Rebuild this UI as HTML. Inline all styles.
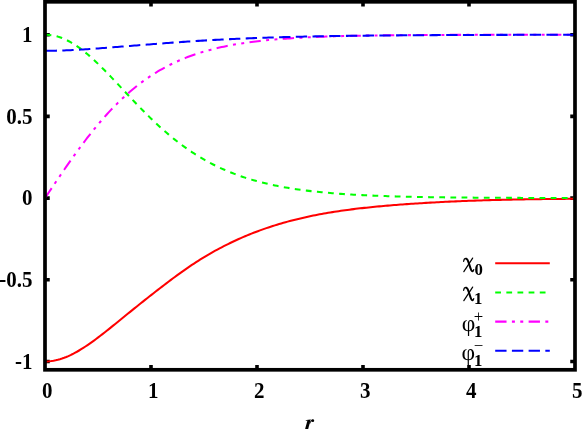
<!DOCTYPE html>
<html><head><meta charset="utf-8"><title>plot</title>
<style>
html,body{margin:0;padding:0;background:#fff;}
body{width:585px;height:431px;overflow:hidden;position:relative;font-family:"Liberation Serif",serif;}
</style></head><body>
<svg width="585" height="431" viewBox="0 0 585 431" style="position:absolute;left:0;top:0;will-change:transform">
<rect x="0" y="0" width="585" height="431" fill="#fff"/>
<path d="M151.00,369.8 V365.05 M151.00,1.8 V6.55 M257.00,369.8 V365.05 M257.00,1.8 V6.55 M363.00,369.8 V365.05 M363.00,1.8 V6.55 M469.00,369.8 V365.05 M469.00,1.8 V6.55 M45.0,361.50 H49.75 M575.0,361.50 H570.25 M45.0,279.80 H49.75 M575.0,279.80 H570.25 M45.0,198.10 H49.75 M575.0,198.10 H570.25 M45.0,116.40 H49.75 M575.0,116.40 H570.25 M45.0,34.70 H49.75 M575.0,34.70 H570.25" stroke="#000" stroke-width="3.6" fill="none"/>
<g fill="none" stroke-width="2.05" stroke-linecap="butt" stroke-linejoin="round">
<path d="M45.00,361.50 L47.13,361.45 L49.26,361.31 L51.39,361.08 L53.51,360.75 L55.64,360.34 L57.77,359.83 L59.90,359.24 L62.03,358.57 L64.16,357.81 L66.29,356.98 L68.41,356.07 L70.54,355.09 L72.67,354.04 L74.80,352.92 L76.93,351.75 L79.06,350.51 L81.18,349.23 L83.31,347.89 L85.44,346.50 L87.57,345.08 L89.70,343.61 L91.83,342.10 L93.96,340.56 L96.08,338.99 L98.21,337.40 L100.34,335.78 L102.47,334.13 L104.60,332.47 L106.73,330.79 L108.86,329.09 L110.98,327.39 L113.11,325.67 L115.24,323.95 L117.37,322.22 L119.50,320.49 L121.63,318.75 L123.76,317.02 L125.88,315.29 L128.01,313.56 L130.14,311.83 L132.27,310.11 L134.40,308.39 L136.53,306.68 L138.65,304.98 L140.78,303.28 L142.91,301.59 L145.04,299.90 L147.17,298.22 L149.30,296.55 L151.43,294.88 L153.55,293.22 L155.68,291.56 L157.81,289.91 L159.94,288.26 L162.07,286.62 L164.20,284.99 L166.33,283.36 L168.45,281.75 L170.58,280.14 L172.71,278.55 L174.84,276.97 L176.97,275.40 L179.10,273.85 L181.22,272.32 L183.35,270.81 L185.48,269.31 L187.61,267.84 L189.74,266.39 L191.87,264.96 L194.00,263.55 L196.12,262.17 L198.25,260.80 L200.38,259.46 L202.51,258.15 L204.64,256.85 L206.77,255.58 L208.90,254.34 L211.02,253.11 L213.15,251.90 L215.28,250.72 L217.41,249.56 L219.54,248.42 L221.67,247.30 L223.80,246.20 L225.92,245.12 L228.05,244.06 L230.18,243.02 L232.31,242.00 L234.44,240.99 L236.57,240.01 L238.69,239.05 L240.82,238.10 L242.95,237.18 L245.08,236.27 L247.21,235.38 L249.34,234.51 L251.47,233.65 L253.59,232.81 L255.72,231.99 L257.85,231.19 L259.98,230.41 L262.11,229.64 L264.24,228.88 L266.37,228.15 L268.49,227.43 L270.62,226.72 L272.75,226.03 L274.88,225.36 L277.01,224.70 L279.14,224.06 L281.27,223.43 L283.39,222.81 L285.52,222.21 L287.65,221.62 L289.78,221.05 L291.91,220.49 L294.04,219.94 L296.16,219.41 L298.29,218.89 L300.42,218.38 L302.55,217.89 L304.68,217.40 L306.81,216.93 L308.94,216.47 L311.06,216.03 L313.19,215.59 L315.32,215.16 L317.45,214.75 L319.58,214.34 L321.71,213.95 L323.84,213.56 L325.96,213.19 L328.09,212.82 L330.22,212.47 L332.35,212.12 L334.48,211.79 L336.61,211.46 L338.73,211.14 L340.86,210.82 L342.99,210.52 L345.12,210.22 L347.25,209.94 L349.38,209.66 L351.51,209.38 L353.63,209.11 L355.76,208.85 L357.89,208.60 L360.02,208.35 L362.15,208.11 L364.28,207.88 L366.41,207.65 L368.53,207.42 L370.66,207.20 L372.79,206.99 L374.92,206.78 L377.05,206.58 L379.18,206.38 L381.31,206.18 L383.43,205.99 L385.56,205.80 L387.69,205.62 L389.82,205.44 L391.95,205.27 L394.08,205.09 L396.20,204.93 L398.33,204.76 L400.46,204.60 L402.59,204.44 L404.72,204.29 L406.85,204.13 L408.98,203.99 L411.10,203.84 L413.23,203.69 L415.36,203.55 L417.49,203.42 L419.62,203.28 L421.75,203.15 L423.88,203.02 L426.00,202.89 L428.13,202.76 L430.26,202.64 L432.39,202.52 L434.52,202.40 L436.65,202.29 L438.78,202.17 L440.90,202.06 L443.03,201.96 L445.16,201.85 L447.29,201.75 L449.42,201.64 L451.55,201.55 L453.67,201.45 L455.80,201.36 L457.93,201.26 L460.06,201.17 L462.19,201.09 L464.32,201.00 L466.45,200.92 L468.57,200.84 L470.70,200.76 L472.83,200.68 L474.96,200.61 L477.09,200.53 L479.22,200.46 L481.35,200.40 L483.47,200.33 L485.60,200.26 L487.73,200.20 L489.86,200.14 L491.99,200.08 L494.12,200.02 L496.24,199.97 L498.37,199.91 L500.50,199.86 L502.63,199.81 L504.76,199.76 L506.89,199.71 L509.02,199.67 L511.14,199.62 L513.27,199.58 L515.40,199.54 L517.53,199.50 L519.66,199.46 L521.79,199.42 L523.92,199.38 L526.04,199.35 L528.17,199.31 L530.30,199.28 L532.43,199.24 L534.56,199.21 L536.69,199.18 L538.82,199.15 L540.94,199.12 L543.07,199.10 L545.20,199.07 L547.33,199.04 L549.46,199.02 L551.59,198.99 L553.71,198.97 L555.84,198.94 L557.97,198.92 L560.10,198.90 L562.23,198.88 L564.36,198.86 L566.49,198.83 L568.61,198.81 L570.74,198.80 L572.87,198.78 L575.00,198.76" stroke="#ff0000"/>
<path d="M45.00,34.70 L47.13,34.75 L49.26,34.91 L51.39,35.18 L53.51,35.55 L55.64,36.03 L57.77,36.61 L59.90,37.29 L62.03,38.07 L64.16,38.95 L66.29,39.92 L68.41,40.99 L70.54,42.15 L72.67,43.40 L74.80,44.73 L76.93,46.14 L79.06,47.64 L81.18,49.20 L83.31,50.84 L85.44,52.55 L87.57,54.32 L89.70,56.15 L91.83,58.03 L93.96,59.97 L96.08,61.96 L98.21,63.99 L100.34,66.06 L102.47,68.17 L104.60,70.31 L106.73,72.48 L108.86,74.68 L110.98,76.89 L113.11,79.13 L115.24,81.38 L117.37,83.64 L119.50,85.90 L121.63,88.18 L123.76,90.45 L125.88,92.72 L128.01,94.99 L130.14,97.25 L132.27,99.50 L134.40,101.74 L136.53,103.96 L138.65,106.17 L140.78,108.35 L142.91,110.52 L145.04,112.66 L147.17,114.79 L149.30,116.88 L151.43,118.95 L153.55,120.99 L155.68,123.00 L157.81,124.98 L159.94,126.93 L162.07,128.84 L164.20,130.73 L166.33,132.58 L168.45,134.39 L170.58,136.18 L172.71,137.92 L174.84,139.63 L176.97,141.31 L179.10,142.95 L181.22,144.55 L183.35,146.12 L185.48,147.66 L187.61,149.15 L189.74,150.62 L191.87,152.05 L194.00,153.44 L196.12,154.80 L198.25,156.12 L200.38,157.41 L202.51,158.67 L204.64,159.90 L206.77,161.09 L208.90,162.25 L211.02,163.38 L213.15,164.48 L215.28,165.55 L217.41,166.58 L219.54,167.59 L221.67,168.57 L223.80,169.52 L225.92,170.45 L228.05,171.35 L230.18,172.22 L232.31,173.06 L234.44,173.88 L236.57,174.68 L238.69,175.45 L240.82,176.20 L242.95,176.92 L245.08,177.63 L247.21,178.31 L249.34,178.97 L251.47,179.61 L253.59,180.23 L255.72,180.83 L257.85,181.41 L259.98,181.97 L262.11,182.52 L264.24,183.04 L266.37,183.55 L268.49,184.05 L270.62,184.52 L272.75,184.99 L274.88,185.43 L277.01,185.87 L279.14,186.28 L281.27,186.69 L283.39,187.08 L285.52,187.46 L287.65,187.82 L289.78,188.18 L291.91,188.52 L294.04,188.85 L296.16,189.17 L298.29,189.48 L300.42,189.78 L302.55,190.06 L304.68,190.34 L306.81,190.61 L308.94,190.87 L311.06,191.12 L313.19,191.36 L315.32,191.60 L317.45,191.83 L319.58,192.04 L321.71,192.26 L323.84,192.46 L325.96,192.66 L328.09,192.85 L330.22,193.03 L332.35,193.21 L334.48,193.38 L336.61,193.54 L338.73,193.70 L340.86,193.86 L342.99,194.01 L345.12,194.15 L347.25,194.29 L349.38,194.42 L351.51,194.55 L353.63,194.68 L355.76,194.80 L357.89,194.91 L360.02,195.02 L362.15,195.13 L364.28,195.24 L366.41,195.34 L368.53,195.43 L370.66,195.53 L372.79,195.62 L374.92,195.71 L377.05,195.79 L379.18,195.87 L381.31,195.95 L383.43,196.03 L385.56,196.10 L387.69,196.17 L389.82,196.24 L391.95,196.30 L394.08,196.37 L396.20,196.43 L398.33,196.49 L400.46,196.54 L402.59,196.60 L404.72,196.65 L406.85,196.70 L408.98,196.75 L411.10,196.80 L413.23,196.85 L415.36,196.89 L417.49,196.93 L419.62,196.98 L421.75,197.02 L423.88,197.05 L426.00,197.09 L428.13,197.13 L430.26,197.16 L432.39,197.19 L434.52,197.23 L436.65,197.26 L438.78,197.29 L440.90,197.32 L443.03,197.34 L445.16,197.37 L447.29,197.40 L449.42,197.42 L451.55,197.45 L453.67,197.47 L455.80,197.49 L457.93,197.51 L460.06,197.53 L462.19,197.55 L464.32,197.57 L466.45,197.59 L468.57,197.61 L470.70,197.63 L472.83,197.64 L474.96,197.66 L477.09,197.68 L479.22,197.69 L481.35,197.70 L483.47,197.72 L485.60,197.73 L487.73,197.75 L489.86,197.76 L491.99,197.77 L494.12,197.78 L496.24,197.79 L498.37,197.80 L500.50,197.81 L502.63,197.82 L504.76,197.83 L506.89,197.84 L509.02,197.85 L511.14,197.86 L513.27,197.87 L515.40,197.88 L517.53,197.89 L519.66,197.89 L521.79,197.90 L523.92,197.91 L526.04,197.91 L528.17,197.92 L530.30,197.93 L532.43,197.93 L534.56,197.94 L536.69,197.95 L538.82,197.95 L540.94,197.96 L543.07,197.96 L545.20,197.97 L547.33,197.97 L549.46,197.98 L551.59,197.98 L553.71,197.98 L555.84,197.99 L557.97,197.99 L560.10,198.00 L562.23,198.00 L564.36,198.00 L566.49,198.01 L568.61,198.01 L570.74,198.01 L572.87,198.02 L575.00,198.02" stroke="#00ff00" stroke-dasharray="5.770 5.370" stroke-dashoffset="-0.6"/>
<path d="M45.00,198.10 L47.13,194.92 L49.26,191.74 L51.39,188.56 L53.51,185.39 L55.64,182.24 L57.77,179.09 L59.90,175.96 L62.03,172.84 L64.16,169.75 L66.29,166.67 L68.41,163.62 L70.54,160.59 L72.67,157.59 L74.80,154.61 L76.93,151.67 L79.06,148.76 L81.18,145.89 L83.31,143.05 L85.44,140.25 L87.57,137.48 L89.70,134.76 L91.83,132.07 L93.96,129.43 L96.08,126.83 L98.21,124.28 L100.34,121.77 L102.47,119.30 L104.60,116.88 L106.73,114.51 L108.86,112.18 L110.98,109.90 L113.11,107.67 L115.24,105.49 L117.37,103.35 L119.50,101.26 L121.63,99.22 L123.76,97.23 L125.88,95.28 L128.01,93.38 L130.14,91.53 L132.27,89.72 L134.40,87.97 L136.53,86.25 L138.65,84.58 L140.78,82.96 L142.91,81.38 L145.04,79.84 L147.17,78.35 L149.30,76.89 L151.43,75.48 L153.55,74.11 L155.68,72.78 L157.81,71.49 L159.94,70.24 L162.07,69.02 L164.20,67.84 L166.33,66.70 L168.45,65.60 L170.58,64.52 L172.71,63.48 L174.84,62.48 L176.97,61.50 L179.10,60.56 L181.22,59.65 L183.35,58.76 L185.48,57.91 L187.61,57.08 L189.74,56.29 L191.87,55.51 L194.00,54.77 L196.12,54.05 L198.25,53.35 L200.38,52.68 L202.51,52.02 L204.64,51.40 L206.77,50.79 L208.90,50.20 L211.02,49.64 L213.15,49.09 L215.28,48.57 L217.41,48.06 L219.54,47.57 L221.67,47.10 L223.80,46.64 L225.92,46.20 L228.05,45.77 L230.18,45.37 L232.31,44.97 L234.44,44.59 L236.57,44.22 L238.69,43.87 L240.82,43.53 L242.95,43.20 L245.08,42.88 L247.21,42.58 L249.34,42.28 L251.47,42.00 L253.59,41.73 L255.72,41.47 L257.85,41.21 L259.98,40.97 L262.11,40.73 L264.24,40.51 L266.37,40.29 L268.49,40.08 L270.62,39.88 L272.75,39.68 L274.88,39.49 L277.01,39.31 L279.14,39.14 L281.27,38.97 L283.39,38.81 L285.52,38.66 L287.65,38.51 L289.78,38.36 L291.91,38.22 L294.04,38.09 L296.16,37.96 L298.29,37.84 L300.42,37.72 L302.55,37.61 L304.68,37.50 L306.81,37.39 L308.94,37.29 L311.06,37.19 L313.19,37.10 L315.32,37.00 L317.45,36.92 L319.58,36.83 L321.71,36.75 L323.84,36.67 L325.96,36.60 L328.09,36.53 L330.22,36.46 L332.35,36.39 L334.48,36.33 L336.61,36.26 L338.73,36.21 L340.86,36.15 L342.99,36.09 L345.12,36.04 L347.25,35.99 L349.38,35.94 L351.51,35.89 L353.63,35.85 L355.76,35.80 L357.89,35.76 L360.02,35.72 L362.15,35.68 L364.28,35.64 L366.41,35.61 L368.53,35.57 L370.66,35.54 L372.79,35.51 L374.92,35.48 L377.05,35.45 L379.18,35.42 L381.31,35.39 L383.43,35.37 L385.56,35.34 L387.69,35.32 L389.82,35.29 L391.95,35.27 L394.08,35.25 L396.20,35.23 L398.33,35.21 L400.46,35.19 L402.59,35.17 L404.72,35.15 L406.85,35.13 L408.98,35.12 L411.10,35.10 L413.23,35.09 L415.36,35.07 L417.49,35.06 L419.62,35.04 L421.75,35.03 L423.88,35.02 L426.00,35.01 L428.13,34.99 L430.26,34.98 L432.39,34.97 L434.52,34.96 L436.65,34.95 L438.78,34.94 L440.90,34.93 L443.03,34.92 L445.16,34.92 L447.29,34.91 L449.42,34.90 L451.55,34.89 L453.67,34.88 L455.80,34.88 L457.93,34.87 L460.06,34.86 L462.19,34.86 L464.32,34.85 L466.45,34.85 L468.57,34.84 L470.70,34.84 L472.83,34.83 L474.96,34.82 L477.09,34.82 L479.22,34.82 L481.35,34.81 L483.47,34.81 L485.60,34.80 L487.73,34.80 L489.86,34.80 L491.99,34.79 L494.12,34.79 L496.24,34.78 L498.37,34.78 L500.50,34.78 L502.63,34.78 L504.76,34.77 L506.89,34.77 L509.02,34.77 L511.14,34.76 L513.27,34.76 L515.40,34.76 L517.53,34.76 L519.66,34.76 L521.79,34.75 L523.92,34.75 L526.04,34.75 L528.17,34.75 L530.30,34.75 L532.43,34.74 L534.56,34.74 L536.69,34.74 L538.82,34.74 L540.94,34.74 L543.07,34.74 L545.20,34.73 L547.33,34.73 L549.46,34.73 L551.59,34.73 L553.71,34.73 L555.84,34.73 L557.97,34.73 L560.10,34.73 L562.23,34.73 L564.36,34.72 L566.49,34.72 L568.61,34.72 L570.74,34.72 L572.87,34.72 L575.00,34.72" stroke="#ff00ff" stroke-dasharray="11.340 5.370 2.985 5.370 2.985 5.370" stroke-dashoffset="-0.6"/>
<path d="M45.00,50.79 L47.13,50.79 L49.26,50.78 L51.39,50.75 L53.51,50.72 L55.64,50.68 L57.77,50.63 L59.90,50.57 L62.03,50.51 L64.16,50.43 L66.29,50.35 L68.41,50.26 L70.54,50.16 L72.67,50.06 L74.80,49.95 L76.93,49.83 L79.06,49.71 L81.18,49.59 L83.31,49.45 L85.44,49.32 L87.57,49.18 L89.70,49.03 L91.83,48.88 L93.96,48.73 L96.08,48.58 L98.21,48.42 L100.34,48.26 L102.47,48.10 L104.60,47.94 L106.73,47.77 L108.86,47.60 L110.98,47.43 L113.11,47.27 L115.24,47.10 L117.37,46.93 L119.50,46.76 L121.63,46.58 L123.76,46.41 L125.88,46.24 L128.01,46.07 L130.14,45.90 L132.27,45.73 L134.40,45.56 L136.53,45.40 L138.65,45.23 L140.78,45.06 L142.91,44.89 L145.04,44.73 L147.17,44.56 L149.30,44.40 L151.43,44.23 L153.55,44.07 L155.68,43.91 L157.81,43.74 L159.94,43.58 L162.07,43.42 L164.20,43.26 L166.33,43.10 L168.45,42.94 L170.58,42.78 L172.71,42.62 L174.84,42.47 L176.97,42.31 L179.10,42.16 L181.22,42.01 L183.35,41.86 L185.48,41.71 L187.61,41.57 L189.74,41.43 L191.87,41.29 L194.00,41.15 L196.12,41.01 L198.25,40.88 L200.38,40.74 L202.51,40.61 L204.64,40.49 L206.77,40.36 L208.90,40.24 L211.02,40.12 L213.15,40.00 L215.28,39.88 L217.41,39.77 L219.54,39.66 L221.67,39.55 L223.80,39.44 L225.92,39.33 L228.05,39.23 L230.18,39.12 L232.31,39.02 L234.44,38.93 L236.57,38.83 L238.69,38.73 L240.82,38.64 L242.95,38.55 L245.08,38.46 L247.21,38.37 L249.34,38.29 L251.47,38.20 L253.59,38.12 L255.72,38.04 L257.85,37.96 L259.98,37.88 L262.11,37.81 L264.24,37.73 L266.37,37.66 L268.49,37.59 L270.62,37.52 L272.75,37.45 L274.88,37.38 L277.01,37.32 L279.14,37.26 L281.27,37.19 L283.39,37.13 L285.52,37.07 L287.65,37.02 L289.78,36.96 L291.91,36.91 L294.04,36.85 L296.16,36.80 L298.29,36.75 L300.42,36.70 L302.55,36.65 L304.68,36.60 L306.81,36.56 L308.94,36.51 L311.06,36.47 L313.19,36.42 L315.32,36.38 L317.45,36.34 L319.58,36.30 L321.71,36.26 L323.84,36.22 L325.96,36.19 L328.09,36.15 L330.22,36.12 L332.35,36.08 L334.48,36.05 L336.61,36.02 L338.73,35.98 L340.86,35.95 L342.99,35.92 L345.12,35.89 L347.25,35.87 L349.38,35.84 L351.51,35.81 L353.63,35.78 L355.76,35.76 L357.89,35.73 L360.02,35.71 L362.15,35.69 L364.28,35.66 L366.41,35.64 L368.53,35.62 L370.66,35.60 L372.79,35.58 L374.92,35.56 L377.05,35.53 L379.18,35.52 L381.31,35.50 L383.43,35.48 L385.56,35.46 L387.69,35.44 L389.82,35.42 L391.95,35.41 L394.08,35.39 L396.20,35.37 L398.33,35.36 L400.46,35.34 L402.59,35.32 L404.72,35.31 L406.85,35.29 L408.98,35.28 L411.10,35.27 L413.23,35.25 L415.36,35.24 L417.49,35.22 L419.62,35.21 L421.75,35.20 L423.88,35.18 L426.00,35.17 L428.13,35.16 L430.26,35.15 L432.39,35.14 L434.52,35.12 L436.65,35.11 L438.78,35.10 L440.90,35.09 L443.03,35.08 L445.16,35.07 L447.29,35.06 L449.42,35.05 L451.55,35.04 L453.67,35.03 L455.80,35.02 L457.93,35.01 L460.06,35.00 L462.19,34.99 L464.32,34.99 L466.45,34.98 L468.57,34.97 L470.70,34.96 L472.83,34.95 L474.96,34.95 L477.09,34.94 L479.22,34.93 L481.35,34.93 L483.47,34.92 L485.60,34.91 L487.73,34.91 L489.86,34.90 L491.99,34.90 L494.12,34.89 L496.24,34.88 L498.37,34.88 L500.50,34.87 L502.63,34.87 L504.76,34.86 L506.89,34.86 L509.02,34.85 L511.14,34.85 L513.27,34.85 L515.40,34.84 L517.53,34.84 L519.66,34.83 L521.79,34.83 L523.92,34.83 L526.04,34.82 L528.17,34.82 L530.30,34.82 L532.43,34.81 L534.56,34.81 L536.69,34.81 L538.82,34.80 L540.94,34.80 L543.07,34.80 L545.20,34.80 L547.33,34.79 L549.46,34.79 L551.59,34.79 L553.71,34.79 L555.84,34.78 L557.97,34.78 L560.10,34.78 L562.23,34.78 L564.36,34.77 L566.49,34.77 L568.61,34.77 L570.74,34.77 L572.87,34.77 L575.00,34.76" stroke="#0000ff" stroke-dasharray="11.340 5.370" stroke-dashoffset="-0.6"/>
<path d="M495.2,263.3 L549.8,263.3" stroke="#ff0000"/>
<path d="M495.2,292.45 L549.8,292.45" stroke="#00ff00" stroke-dasharray="5.770 5.370"/>
<path d="M495.2,321.6 L549.8,321.6" stroke="#ff00ff" stroke-dasharray="11.340 5.370 2.985 5.370 2.985 5.370"/>
<path d="M495.2,350.75 L549.8,350.75" stroke="#0000ff" stroke-dasharray="11.340 5.370"/>
</g>
<rect x="45.0" y="1.8" width="530.0" height="368.0" fill="none" stroke="#000" stroke-width="3.7"/>
<g font-family="Liberation Serif, serif" font-weight="bold" font-size="21px" fill="#000">
<text transform="translate(32.60,41.90) scale(1,1.08)" text-anchor="end">1</text>
<text transform="translate(32.60,123.60) scale(1,1.08)" text-anchor="end">0.5</text>
<text transform="translate(32.60,205.30) scale(1,1.08)" text-anchor="end">0</text>
<text transform="translate(32.60,287.00) scale(1,1.08)" text-anchor="end">-0.5</text>
<text transform="translate(32.60,368.70) scale(1,1.08)" text-anchor="end">-1</text>
<text transform="translate(47.30,398.20) scale(1,1.08)" text-anchor="middle">0</text>
<text transform="translate(153.30,398.20) scale(1,1.08)" text-anchor="middle">1</text>
<text transform="translate(259.30,398.20) scale(1,1.08)" text-anchor="middle">2</text>
<text transform="translate(365.30,398.20) scale(1,1.08)" text-anchor="middle">3</text>
<text transform="translate(471.30,398.20) scale(1,1.08)" text-anchor="middle">4</text>
<text transform="translate(577.30,398.20) scale(1,1.08)" text-anchor="middle">5</text>
<g fill="#000" stroke="none"><path d="M307.5,420.2 L310.7,419.3 L308.2,428.9 L305.1,428.9 Z"/><path d="M305.8,421.1 L305.7,420.5 L308.6,419.6 L308.4,420.6 Z"/><path d="M309.4,423.6 C310.0,421.6 310.9,420.3 312.2,419.6 L312.6,420.6 C311.5,421.0 310.6,422.3 310.0,424.0 Z"/><circle cx="312.75" cy="420.65" r="1.45"/></g>
</g>
<g transform="translate(463.05,257.4)" fill="none" stroke="#000" stroke-linecap="round" stroke-linejoin="round"><path d="M3.2,1.3 C4.4,1.5 4.9,3.0 5.6,5.2 L7.5,11.0 C8.0,12.6 8.4,13.7 9.3,13.9" stroke-width="2.0"/><path d="M0.6,3.9 C0.8,2.2 1.7,1.0 3.2,1.1" stroke-width="1.25"/><path d="M9.2,14.0 C10.0,14.1 10.5,13.5 10.7,12.3" stroke-width="1.25"/><path d="M9.6,0.7 L0.8,14.3" stroke-width="1.2"/></g>
<text transform="translate(474.4,274.9) scale(1,1.01)" font-family="Liberation Serif, serif" font-weight="bold" font-size="16.8px" text-anchor="start" fill="#000">0</text>
<g transform="translate(463.05,286.4)" fill="none" stroke="#000" stroke-linecap="round" stroke-linejoin="round"><path d="M3.2,1.3 C4.4,1.5 4.9,3.0 5.6,5.2 L7.5,11.0 C8.0,12.6 8.4,13.7 9.3,13.9" stroke-width="2.0"/><path d="M0.6,3.9 C0.8,2.2 1.7,1.0 3.2,1.1" stroke-width="1.25"/><path d="M9.2,14.0 C10.0,14.1 10.5,13.5 10.7,12.3" stroke-width="1.25"/><path d="M9.6,0.7 L0.8,14.3" stroke-width="1.2"/></g>
<text transform="translate(474.0,303.65) scale(1,1.0)" font-family="Liberation Serif, serif" font-weight="bold" font-size="16.8px" text-anchor="start" fill="#000">1</text>
<text transform="translate(461.8,330.5) scale(1,1.0)" font-family="Liberation Serif, serif" font-weight="normal" font-size="23.5px" text-anchor="start" fill="#000">φ</text>
<text transform="translate(474.0,336.6) scale(1,1.0)" font-family="Liberation Serif, serif" font-weight="bold" font-size="16.8px" text-anchor="start" fill="#000">1</text>
<text transform="translate(478.4,321.7) scale(1,1.0)" font-family="Liberation Serif, serif" font-weight="normal" font-size="16.8px" text-anchor="middle" fill="#000">+</text>
<text transform="translate(461.6,359.65) scale(1,1.0)" font-family="Liberation Serif, serif" font-weight="normal" font-size="23.5px" text-anchor="start" fill="#000">φ</text>
<text transform="translate(474.0,365.6) scale(1,1.0)" font-family="Liberation Serif, serif" font-weight="bold" font-size="16.8px" text-anchor="start" fill="#000">1</text>
<text transform="translate(478.4,350.7) scale(1,1.0)" font-family="Liberation Serif, serif" font-weight="normal" font-size="16.8px" text-anchor="middle" fill="#000">−</text>
</svg>
</body></html>
